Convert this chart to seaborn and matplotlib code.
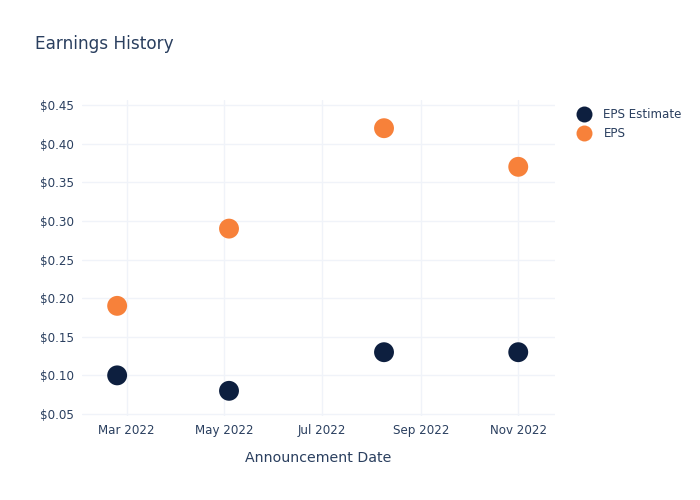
import matplotlib
matplotlib.use("Agg")
import matplotlib.pyplot as plt
import matplotlib.dates as mdates
import seaborn as sns
import pandas as pd
import numpy as np

dates = ["2022-02-23", "2022-05-04", "2022-08-09", "2022-11-01"]
eps_estimate = [0.10, 0.08, 0.13, 0.13]
eps_actual = [0.19, 0.29, 0.42, 0.37]
series_names = ["EPS Estimate", "EPS"]
colors = ["#0d1f3f", "#f7813a"]
yticks = [0.05, 0.10, 0.15, 0.20, 0.25, 0.30, 0.35, 0.40, 0.45]

df = pd.DataFrame({
    "date": pd.to_datetime(dates * 2),
    "value": eps_estimate + eps_actual,
    "series": [series_names[0]] * len(dates) + [series_names[1]] * len(dates),
})

sns.set_theme(style="white")
plt.rcParams["font.family"] = ["DejaVu Sans"]
text_color = "#2a3f5f"
grid_color = "#f0f3f9"

fig = plt.figure(figsize=(7, 5), dpi=100)
ax = fig.add_axes([82/700, 1-416/500, (555-82)/700, (416-100)/500])

sns.scatterplot(data=df, x="date", y="value", hue="series", palette=colors,
                hue_order=series_names, s=205, linewidth=0, edgecolor="none",
                ax=ax, legend=False, zorder=3)

ax.set_xlim(pd.Timestamp("2022-02-01"), pd.Timestamp("2022-11-24"))
ax.set_ylim(0.0474, 0.4565)
ax.set_yticks(yticks)
ax.set_yticklabels([f"${v:.2f}" for v in yticks])
ax.xaxis.set_major_locator(mdates.MonthLocator(bymonth=[3, 5, 7, 9, 11]))
ax.xaxis.set_major_formatter(mdates.DateFormatter("%b %Y"))

ax.grid(True, color=grid_color, linewidth=1)
ax.set_axisbelow(True)
for s in ax.spines.values():
    s.set_visible(False)
ax.tick_params(axis="both", length=0, labelsize=8.6, colors=text_color, pad=6)
ax.set_xlabel("Announcement Date", fontsize=10.2, color=text_color, labelpad=10)
ax.set_ylabel("")

fig.text(35/700, 1-44/500, "Earnings History", fontsize=12.2, color=text_color, va="center", ha="left")

handles = [plt.Line2D([], [], marker="o", linestyle="", markersize=11.5,
                      markerfacecolor=c, markeredgecolor="none") for c in colors]
fig.legend(handles, series_names, loc="upper left", bbox_to_anchor=(570/700, 1-103/500),
           frameon=False, fontsize=8.6, labelcolor=text_color, handletextpad=0.9,
           labelspacing=0.55, borderaxespad=0, handlelength=1.5)

fig.savefig("out.png", dpi=100)
